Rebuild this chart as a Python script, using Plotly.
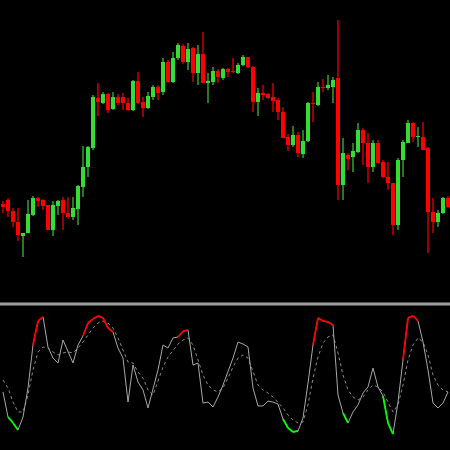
import plotly.graph_objects as go

# ---- candle data (price units) ----
opens = [96,100,89,78,64,67,85,102,100,95,70,94,100,87,83,91,113,133,152,202,
         197,206,191,203,203,197,190,219,198,192,203,213,208,238,218,242,254,238,252,227,
         246,217,218,229,222,231,229,227,235,243,233,198,207,206,203,200,188,163,155,165,
         146,159,197,195,213,212,213,222,115,145,143,148,170,157,133,157,138,123,117,75,
         140,157,177,163,163,152,88,78,87,102]
highs = [99,102,92,92,67,100,104,103,101,95,99,100,103,103,103,115,154,154,205,217,
         208,207,208,206,207,202,220,228,203,208,215,215,242,240,248,257,256,257,253,255,
         268,227,233,231,232,232,242,237,245,243,234,212,215,207,217,202,193,166,174,168,
         170,198,208,218,221,225,223,280,162,147,157,177,172,167,160,160,140,138,117,142,
         160,180,178,173,178,153,102,90,103,104]
lows = [87,83,73,59,43,67,84,93,90,70,64,85,70,81,80,75,103,123,150,184,
        196,187,190,195,190,189,189,196,183,191,200,200,205,217,217,240,236,230,218,215,
        217,197,215,217,220,223,227,226,234,232,188,184,200,201,188,180,162,149,153,143,
        142,158,178,194,208,210,197,100,100,130,128,147,135,117,128,137,122,110,65,70,
        123,157,158,153,150,47,67,73,86,92]
closes = [93,89,78,65,67,86,102,99,94,70,95,99,87,83,92,114,133,153,203,198,
          206,190,203,197,197,190,219,197,192,204,213,207,238,218,242,255,238,251,227,246,
          217,219,229,223,231,228,228,235,243,233,198,207,205,202,199,188,162,155,165,147,
          159,197,196,213,212,215,220,115,147,141,149,170,157,133,157,137,123,117,75,140,
          158,177,163,164,150,88,78,87,102,93]

# ---- stochastic oscillator (0-100) ----
stoch_k = [40.3,22.9,18.8,13.9,22.9,43.1,72.9,89.6,92.4,71.5,63.9,60.4,76.4,68.1,60.4,72.9,79.2,88.2,91.0,93.1,
           91.7,84.7,81.9,70.8,63.9,33.3,59.0,47.2,41.7,29.2,41.7,55.6,72.9,70.8,77.8,78.5,82.6,83.3,59.0,60.4,
           32.6,33.3,29.9,36.8,45.1,54.2,63.9,75.0,73.6,71.5,43.1,30.6,30.6,34.0,33.3,31.9,21.5,15.3,12.5,13.2,
           22.2,46.5,72.9,91.7,89.6,88.9,86.8,38.2,25.7,18.8,26.4,31.3,39.6,43.8,56.9,43.8,37.5,18.8,11.1,33.3,
           62.5,91.7,93.1,89.6,75.0,55.6,32.6,29.2,32.6,40.3]
stoch_d = [48.6,43.1,33.3,26.4,26.4,38.2,55.6,68.1,71.5,70.8,68.1,66.0,67.4,68.1,67.4,70.8,75.0,79.9,84.7,88.2,
           89.6,88.2,84.7,77.8,69.4,61.1,60.4,54.2,50.0,41.7,38.2,47.2,57.6,64.6,69.4,73.6,76.4,77.8,72.9,62.5,
           52.1,45.1,41.7,40.3,43.1,50.0,57.6,63.9,66.0,63.9,54.2,45.1,41.7,39.6,36.8,33.3,29.2,24.3,20.8,18.8,
           19.4,31.3,50.0,64.6,74.3,78.5,79.9,67.4,52.1,41.7,36.8,34.7,36.8,41.7,45.1,43.8,40.3,33.3,26.4,31.3,
           45.1,62.5,72.9,77.8,75.0,66.0,52.1,45.1,41.7,40.3]
upper_level = 80
lower_level = 20

n = len(opens)
xs = list(range(n))

UP_BODY = "#33dd33"
DN_BODY = "#ff0000"
UP_WICK = "#237a23"
DN_WICK = "#9a0000"

is_up = [c >= o for o, c in zip(opens, closes)]
body_base = [min(o, c) for o, c in zip(opens, closes)]
body_h = [max(abs(c - o), 1) for o, c in zip(opens, closes)]
wick_h = [h - l for h, l in zip(highs, lows)]

fig = go.Figure()

fig.add_trace(go.Bar(
    x=xs, y=wick_h, base=lows, width=0.2,
    marker=dict(color=[UP_WICK if u else DN_WICK for u in is_up], line=dict(width=0)),
    yaxis="y", hoverinfo="skip"))
fig.add_trace(go.Bar(
    x=xs, y=body_h, base=body_base, width=0.62,
    marker=dict(color=[UP_BODY if u else DN_BODY for u in is_up], line=dict(width=0)),
    yaxis="y", hoverinfo="skip"))

# signal (dotted)
fig.add_trace(go.Scatter(x=xs, y=stoch_d, mode="lines", yaxis="y2",
                         line=dict(color="#8c8c8c", width=1, dash="dot"), hoverinfo="skip"))
# main line
fig.add_trace(go.Scatter(x=xs, y=stoch_k, mode="lines", yaxis="y2",
                         line=dict(color="#a8a8a8", width=1), hoverinfo="skip"))

rx, ry, gx, gy = [], [], [], []
for i in range(n - 1):
    if stoch_k[i + 1] > upper_level:
        rx += [xs[i], xs[i + 1], None]
        ry += [stoch_k[i], stoch_k[i + 1], None]
    elif stoch_k[i + 1] < lower_level:
        gx += [xs[i], xs[i + 1], None]
        gy += [stoch_k[i], stoch_k[i + 1], None]
fig.add_trace(go.Scatter(x=rx, y=ry, mode="lines", yaxis="y2",
                         line=dict(color="#ff0000", width=1.8), hoverinfo="skip"))
fig.add_trace(go.Scatter(x=gx, y=gy, mode="lines", yaxis="y2",
                         line=dict(color="#00ff00", width=1.8), hoverinfo="skip"))

H = 450
fig.update_layout(
    width=450, height=H,
    margin=dict(l=0, r=0, t=0, b=0),
    paper_bgcolor="#000000", plot_bgcolor="#000000",
    showlegend=False, barmode="overlay", bargap=0,
    xaxis=dict(range=[-0.6, 89.4], visible=False, showgrid=False, zeroline=False),
    yaxis=dict(domain=[1 - 300 / H, 1], range=[0, 300], visible=False,
               showgrid=False, zeroline=False),
    yaxis2=dict(domain=[0, 144 / H], range=[0, 100], visible=False,
                showgrid=False, zeroline=False),
    shapes=[dict(type="line", xref="paper", yref="paper", x0=0, x1=1,
                 y0=1 - 304 / H, y1=1 - 304 / H,
                 line=dict(color="#a0a0a0", width=3))],
)

fig.write_html("out.html", config={"displayModeBar": False},
               post_script="document.body.style.margin='0';document.body.style.background='#000';")
